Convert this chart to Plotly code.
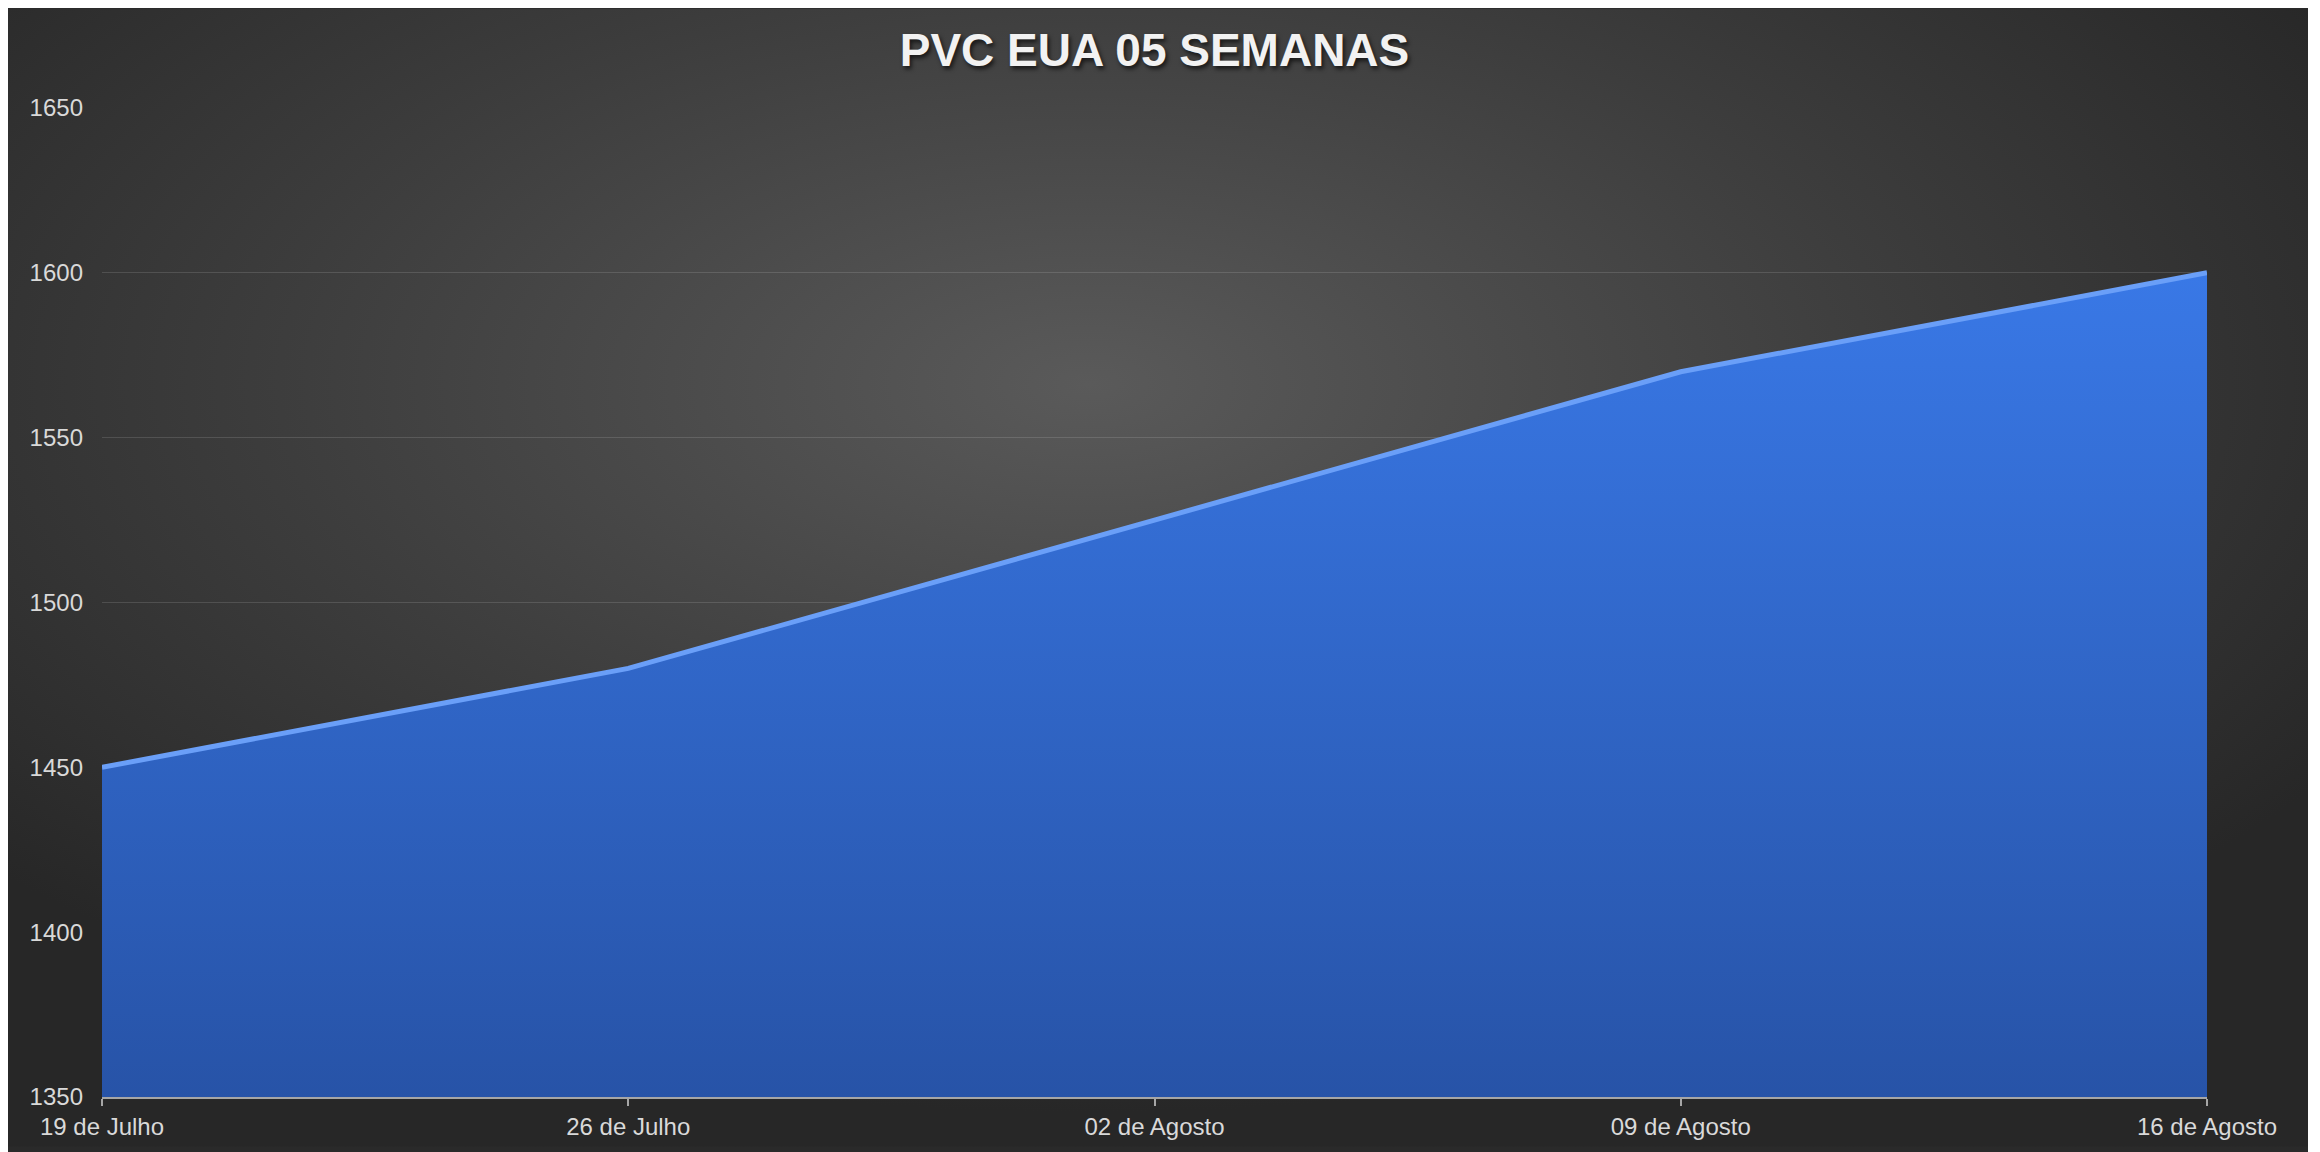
import base64
import plotly.graph_objects as go

# ---- data ----
dates = ["19 de Julho", "26 de Julho", "02 de Agosto", "09 de Agosto", "16 de Agosto"]
prices = [1450, 1480, 1525, 1570, 1600]
y_ticks = [1350, 1400, 1450, 1500, 1550, 1600, 1650]
title_text = "PVC EUA 05 SEMANAS"

W, H = 2300, 1144
ML, MR, MT, MB = 94, 101, 100, 50
PW, PH = W - ML - MR, H - MT - MB

# radial-gradient background as an inline SVG image
svg = (
    f"<svg xmlns='http://www.w3.org/2000/svg' width='{W}' height='{H}' "
    "preserveAspectRatio='none'>"
    "<defs><radialGradient id='g' cx='0.47' cy='0.33' r='0.64'>"
    "<stop offset='0' stop-color='#5a5a5a'/>"
    "<stop offset='0.55' stop-color='#3d3d3d'/>"
    "<stop offset='1' stop-color='#272727'/>"
    "</radialGradient></defs>"
    f"<rect x='0' y='0' width='{W}' height='{H}' fill='url(#g)'/></svg>"
)
bg_src = "data:image/svg+xml;base64," + base64.b64encode(svg.encode()).decode()

fig = go.Figure()
fig.add_trace(go.Scatter(
    x=dates, y=prices,
    mode="lines",
    line=dict(color="#6a9ff8", width=5),
    fill="tozeroy",
    fillgradient=dict(type="vertical", start=1350, stop=1600,
                      colorscale=[[0, "#2753a7"], [1, "#3978e6"]]),
    hoverinfo="x+y",
    showlegend=False,
))

fig.update_layout(
    width=W, height=H,
    margin=dict(l=ML, r=MR, t=MT, b=MB),
    paper_bgcolor="#2a2a2a",
    plot_bgcolor="rgba(0,0,0,0)",
    title=dict(
        text=title_text,
        x=0.5, xref="paper", xanchor="center",
        y=1 - 42 / H, yref="container", yanchor="middle",
        font=dict(family="Liberation Sans, Arial, sans-serif", size=46,
                  color="#f2f2f2", weight="bold",
                  shadow="2px 3px 4px rgba(0,0,0,0.65)"),
    ),
    font=dict(family="Liberation Sans, Arial, sans-serif", size=24, color="#d9d9d9"),
    images=[dict(
        source=bg_src, xref="paper", yref="paper",
        x=-ML / PW, y=(H - MB) / PH,
        sizex=W / PW, sizey=H / PH,
        xanchor="left", yanchor="top",
        sizing="stretch", layer="below",
    )],
    xaxis=dict(
        type="category",
        range=[0, len(dates) - 1],
        showgrid=False,
        showline=True, linecolor="#a6a6a6", linewidth=2,
        ticks="outside", ticklen=7, tickcolor="#a6a6a6", tickwidth=2,
        tickfont=dict(size=24, color="#d9d9d9"),
        zeroline=False,
        fixedrange=True,
    ),
    yaxis=dict(
        range=[1350, 1650],
        tickvals=y_ticks,
        showgrid=True, gridcolor="rgba(255,255,255,0.13)", gridwidth=1,
        showline=False, zeroline=False,
        ticks="", ticklabelstandoff=18,
        tickfont=dict(size=24, color="#d9d9d9"),
        fixedrange=True,
    ),
)

fig.write_html("out.html")
